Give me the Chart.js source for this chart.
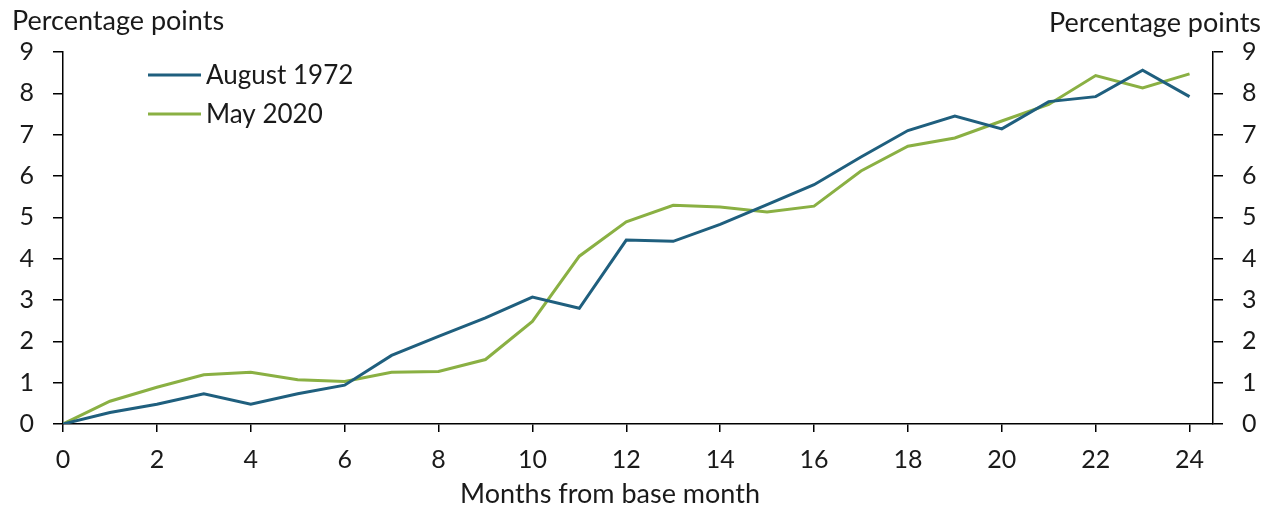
<!DOCTYPE html>
<html>
<head>
<meta charset="utf-8">
<script src="https://cdn.jsdelivr.net/npm/chart.js@4"></script>
<style>
  html,body{margin:0;padding:0;background:#fff;}
  #wrap{width:1270px;height:505px;position:relative;}
</style>
</head>
<body>
<div id="wrap"><canvas id="c" width="1270" height="505"></canvas></div>
<script>
const months = [0,1,2,3,4,5,6,7,8,9,10,11,12,13,14,15,16,17,18,19,20,21,22,23,24];
const aug1972 = [0,0.28,0.48,0.73,0.48,0.73,0.94,1.66,2.12,2.57,3.07,2.80,4.45,4.42,4.83,5.31,5.79,6.46,7.10,7.45,7.14,7.80,7.92,8.56,7.92];
const may2020 = [0,0.55,0.89,1.19,1.25,1.07,1.03,1.25,1.27,1.56,2.48,4.06,4.89,5.29,5.25,5.13,5.27,6.12,6.72,6.92,7.33,7.73,8.43,8.13,8.47];
const xTickValues = [0,2,4,6,8,10,12,14,16,18,20,22,24];
const yTickValues = [0,1,2,3,4,5,6,7,8,9];
const seriesNames = ["August 1972","May 2020"];
const seriesColors = ["#1f5f7e","#8ab043"];
const yTitle = "Percentage points";
const xTitle = "Months from base month";

const FONT = "Lato, 'Open Sans', sans-serif";
const FS = 25;
const TEXT = "#1a1a1a";

const textPlugin = {
  id: 'texts',
  afterDraw(chart) {
    const ctx = chart.ctx;
    ctx.save();
    ctx.fillStyle = TEXT;
    ctx.font = "27px " + FONT;
    ctx.textBaseline = "middle";
    ctx.textAlign = "left";
    ctx.fillText(yTitle, 12, 21);
    ctx.textAlign = "right";
    ctx.fillText(yTitle, 1261, 23);
    ctx.textAlign = "center";
    ctx.fillText(xTitle, 610, 494);
    ctx.font = "26px " + FONT;
    const ys = [75, 114];
    chart.data.datasets.forEach((ds, i) => {
      ctx.strokeStyle = ds.borderColor;
      ctx.lineWidth = 3;
      ctx.beginPath();
      ctx.moveTo(148, ys[i]);
      ctx.lineTo(201, ys[i]);
      ctx.stroke();
      ctx.fillStyle = TEXT;
      ctx.textAlign = "left";
      ctx.fillText(ds.label, 206, ys[i] + 1);
    });
    ctx.restore();
  }
};

const axisCommon = {
  grid: { display: true, drawOnChartArea: false, drawTicks: true, tickLength: 10, color: "#000", lineWidth: 1.5 },
  border: { display: true, color: "#000", width: 1.5 },
};

new Chart(document.getElementById('c'), {
  type: 'line',
  data: {
    datasets: [
      { label: seriesNames[0], data: months.map((m,i)=>({x:m,y:aug1972[i]})), borderColor: seriesColors[0], backgroundColor: seriesColors[0], borderWidth: 3, pointRadius: 0, tension: 0 },
      { label: seriesNames[1], data: months.map((m,i)=>({x:m,y:may2020[i]})), borderColor: seriesColors[1], backgroundColor: seriesColors[1], borderWidth: 3, pointRadius: 0, tension: 0 }
    ]
  },
  options: {
    responsive: false,
    animation: false,
    layout: { padding: { top: 52, left: 0, right: 0, bottom: 0 } },
    plugins: { legend: { display: false }, tooltip: { enabled: false } },
    scales: {
      x: {
        type: 'linear', min: 0, max: 24.5,
        ...axisCommon,
        grid: { ...axisCommon.grid, tickLength: 8 },
        ticks: { color: TEXT, font: { family: FONT, size: FS }, padding: 13, maxRotation: 0, autoSkip: false },
        afterBuildTicks(axis) { axis.ticks = xTickValues.map(v => ({ value: v })); },
        afterFit(axis) { axis.height = 81; }
      },
      y: {
        position: 'left', min: 0, max: 9,
        ...axisCommon,
        ticks: { color: TEXT, font: { family: FONT, size: FS }, padding: 19 },
        afterBuildTicks(axis) { axis.ticks = yTickValues.map(v => ({ value: v })); },
        afterFit(axis) { axis.width = 63; }
      },
      y2: {
        position: 'right', min: 0, max: 9,
        ...axisCommon,
        ticks: { color: TEXT, font: { family: FONT, size: FS }, padding: 19 },
        afterBuildTicks(axis) { axis.ticks = yTickValues.map(v => ({ value: v })); },
        afterFit(axis) { axis.width = 57; }
      }
    }
  },
  plugins: [textPlugin]
});
</script>
</body>
</html>
